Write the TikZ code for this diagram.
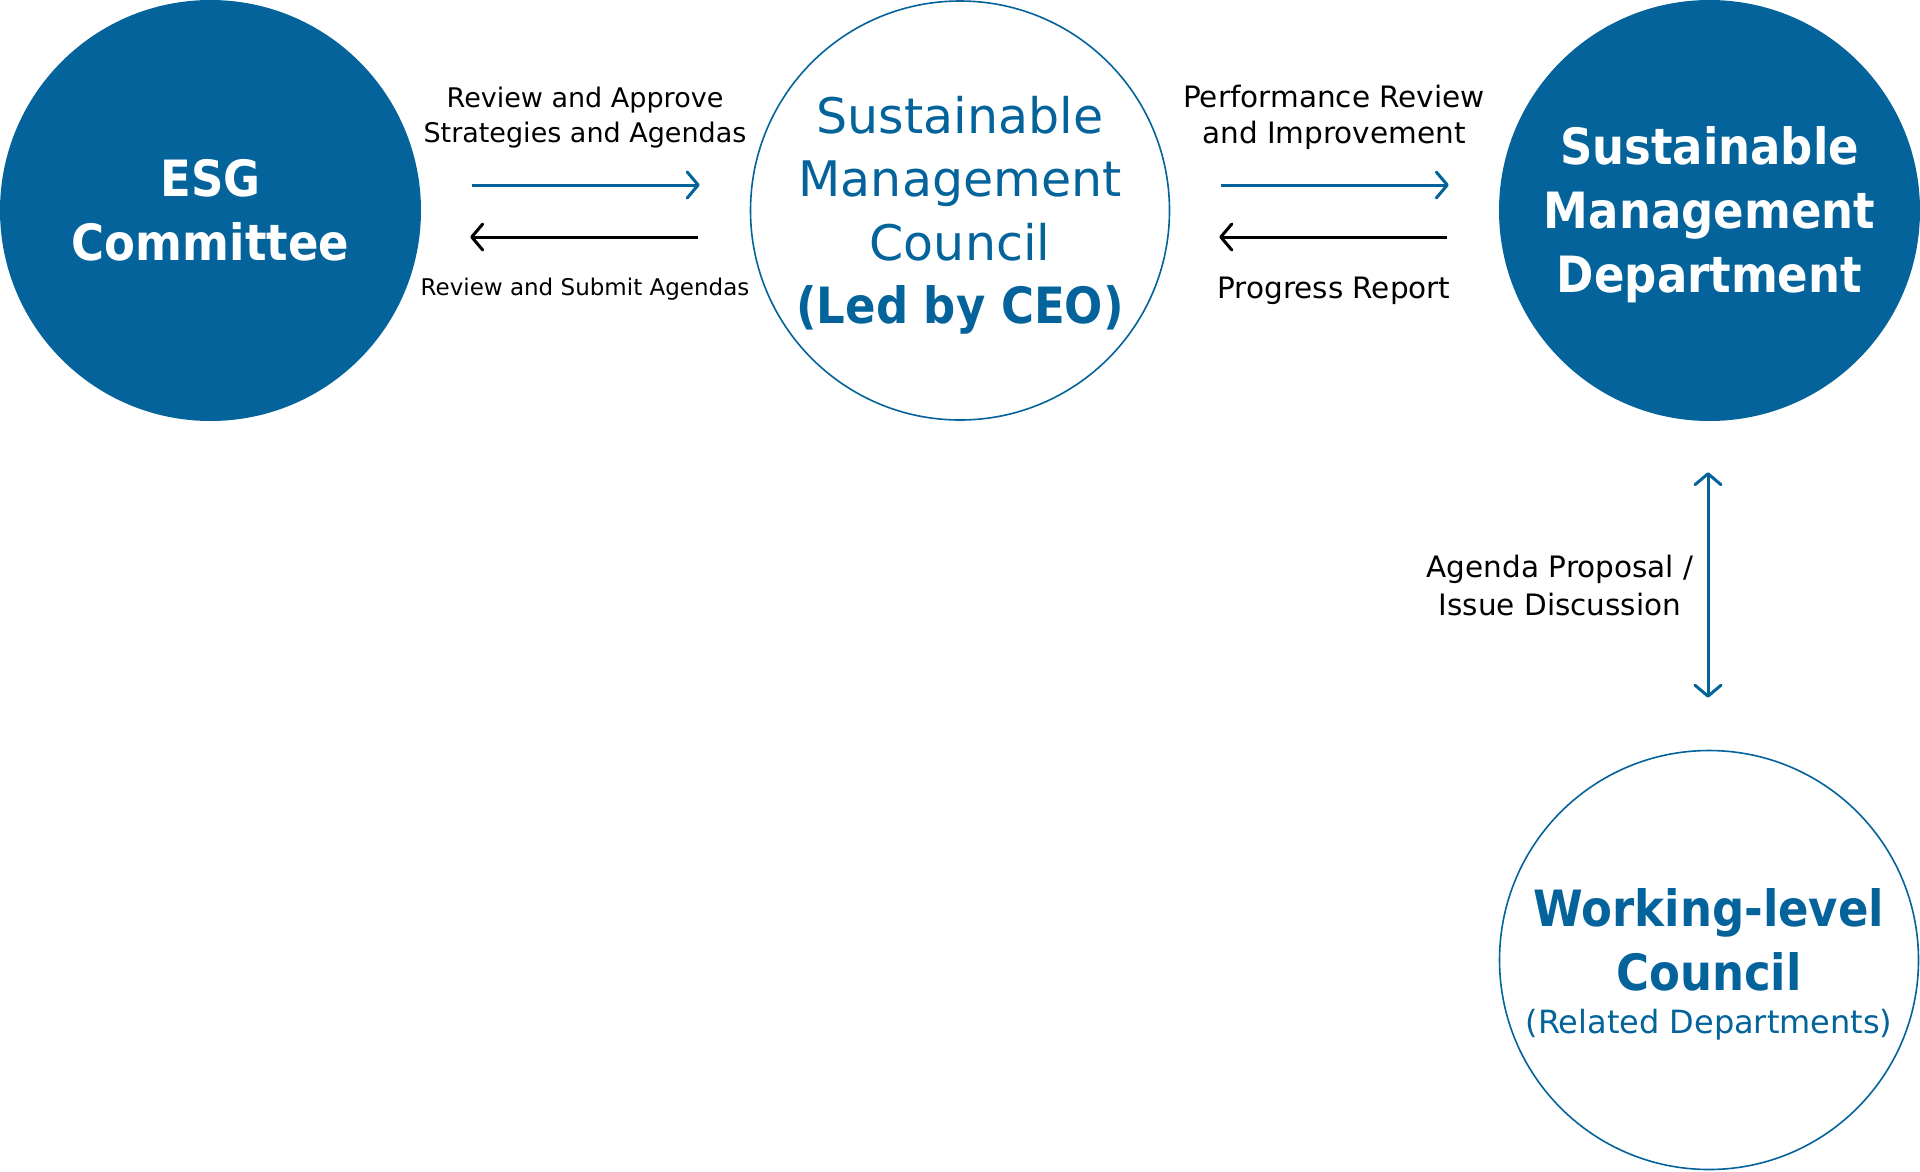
\documentclass[tikz,border=0pt]{standalone}
\usepackage{fontspec}
\setmainfont{DejaVu Sans}
\newfontfamily\condbold{DejaVu Sans Condensed}
\usetikzlibrary{arrows.meta,calc}
\definecolor{esgblue}{HTML}{03639A}
\newcommand{\hb}{\condbold\bfseries}
\tikzset{
  filledcirc/.style={circle,fill=esgblue,minimum size=421pt,inner sep=0pt,text=white,align=center,
    font=\fontsize{50}{64}\selectfont\hb},
  ringcirc/.style={circle,draw=esgblue,line width=1.6pt,fill=white,minimum size=419pt,inner sep=0pt,text=esgblue,align=center,
    font=\fontsize{49}{63.5}\selectfont},
  intext/.style={align=center,inner sep=0pt},
  bluearrow/.style={draw=esgblue,line width=3pt,-{Straight Barb[length=11pt,width=26pt,round]}},
  blackarrow/.style={draw=black,line width=3pt,-{Straight Barb[length=11pt,width=26pt,round]}},
  lbl/.style={align=center,inner sep=0pt,text=black},
}
\begin{document}
\begin{tikzpicture}[x=1pt,y=-1pt]
\useasboundingbox (0,0) rectangle (1920,1171);
\node[filledcirc] (esg) at (210.5,210.5) {ESG\\Committee};
\node[ringcirc] (smc) at (960,210.5) {};
\node[intext,text=esgblue,font=\fontsize{49}{63.5}\selectfont] (smct) at ($(smc.center)+(0,5)$)
  {Sustainable\\Management\\Council\\{\fontsize{50}{63.5}\selectfont\hb (Led by CEO)}};
\node[filledcirc] (smd) at (1709.5,210.5) {};
\node[intext,text=white,font=\fontsize{50}{64}\selectfont\hb] (smdt) at ($(smd.center)+(0,4)$)
  {Sustainable\\Management\\Department};
\node[ringcirc] (wlc) at (1709,960) {};
\node[text=esgblue,align=center,inner sep=0pt,anchor=base,font=\fontsize{50}{64}\selectfont\hb] (wlct) at (1709,990)
  {Working-level\\Council};
\node[text=esgblue,inner sep=0pt,anchor=base,font=\fontsize{32}{38}\selectfont] (wlcs) at (1709,1033)
  {(Related Departments)};

% arrows between ESG and SMC
\draw[bluearrow] ($(esg.east)+(51,-25.5)$) -- ($(smc.west)+(-50,-25.5)$);
\draw[blackarrow] ($(smc.west)+(-52,26.5)$) -- ($(esg.east)+(49,26.5)$);
% arrows between SMC and SMD
\draw[bluearrow] ($(smc.east)+(51,-25.5)$) -- ($(smd.west)+(-50,-25.5)$);
\draw[blackarrow] ($(smd.west)+(-52,26.5)$) -- ($(smc.east)+(49,26.5)$);
% vertical
\draw[draw=esgblue,line width=3pt,{Straight Barb[length=11pt,width=26pt,round]}-{Straight Barb[length=11pt,width=26pt,round]}]
  ($(smd.south)+(-1.5,51)$) -- ($(wlc.north)+(-1,-52)$);

\node[lbl,anchor=base,font=\fontsize{27}{35}\selectfont] (l1) at (585,142) {Review and Approve\\Strategies and Agendas};
\node[lbl,anchor=base,font=\fontsize{23}{28}\selectfont] (l2) at (585,295) {Review and Submit Agendas};
\node[lbl,anchor=base,font=\fontsize{29.5}{36}\selectfont] (l3) at (1334,143) {Performance Review\\and Improvement};
\node[lbl,anchor=base,font=\fontsize{29.5}{36}\selectfont] (l4) at (1334,298) {Progress Report};
\node[lbl,anchor=base,font=\fontsize{29.5}{38}\selectfont] (l5) at (1560,615) {Agenda Proposal /\\Issue Discussion};
\end{tikzpicture}
\end{document}
